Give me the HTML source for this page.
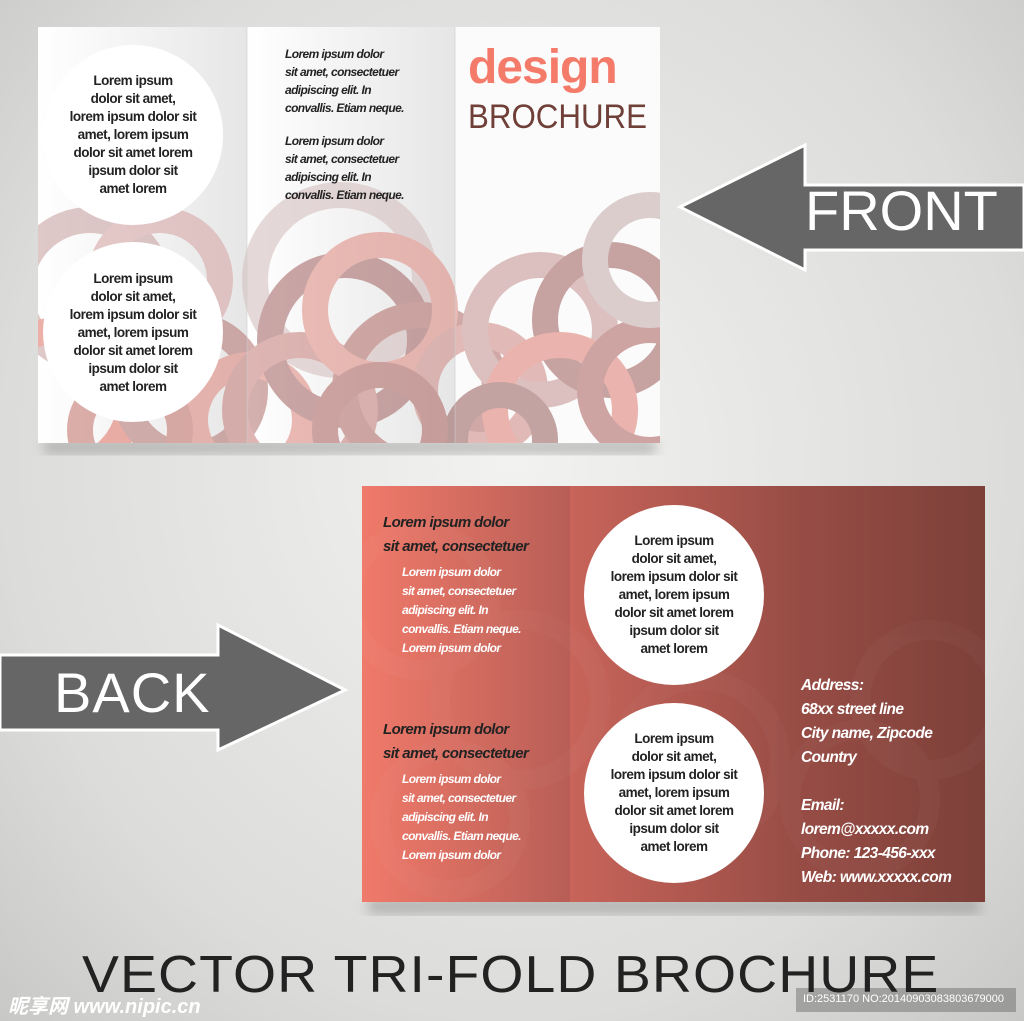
<!DOCTYPE html>
<html><head><meta charset="utf-8"><style>
body{margin:0;width:1024px;height:1021px;overflow:hidden;background:radial-gradient(ellipse at 50% 45%,#f2f2f0 0%,#dcdcda 70%,#c8c8c6 100%);font-family:"Liberation Sans",sans-serif;position:relative}
.a{position:absolute}
.ct{text-align:center;font-weight:bold;font-size:13.5px;line-height:18px;color:#222;letter-spacing:-0.5px}
.it{font-style:italic;font-weight:bold;font-size:12px;line-height:18px;color:#222;letter-spacing:-0.6px}
.wt{color:#fff}
</style></head><body>
<svg class="a" style="left:0;top:0" width="1024" height="1021">
<defs>
<linearGradient id="p1" x1="0" x2="1"><stop offset="0" stop-color="#fff"/><stop offset="1" stop-color="#e6e6e6"/></linearGradient>
<linearGradient id="b1" x1="0" x2="1"><stop offset="0" stop-color="#f07a6a"/><stop offset="1" stop-color="#b85e56"/></linearGradient>
<linearGradient id="b2" x1="0" x2="1"><stop offset="0" stop-color="#c8645a"/><stop offset="1" stop-color="#9c4f47"/></linearGradient>
<linearGradient id="b3" x1="0" x2="1"><stop offset="0" stop-color="#9a4e46"/><stop offset="1" stop-color="#7c4039"/></linearGradient>
<clipPath id="cf"><rect x="38" y="27" width="622" height="416"/></clipPath>
<clipPath id="cb"><rect x="362" y="486" width="623" height="416"/></clipPath>
<filter id="sh"><feGaussianBlur stdDeviation="6"/></filter>
</defs>
<rect x="44" y="440" width="612" height="14" fill="#888" opacity=".5" filter="url(#sh)"/>
<rect x="368" y="898" width="612" height="16" fill="#888" opacity=".5" filter="url(#sh)"/>
<g clip-path="url(#cf)">
<rect x="38" y="27" width="209" height="416" fill="url(#p1)"/>
<rect x="247" y="27" width="208" height="416" fill="url(#p1)"/>
<rect x="455" y="27" width="205" height="416" fill="#fbfbfb"/>
<g fill="none" stroke-width="26" opacity=".6">
<circle cx="90" cy="290" r="70" stroke="#c9a4a4"/>
<circle cx="160" cy="280" r="60" stroke="#d8a8a8"/>
<circle cx="60" cy="400" r="70" stroke="#e07c70"/>
<circle cx="190" cy="390" r="65" stroke="#b77b78"/>
<circle cx="250" cy="420" r="55" stroke="#e08d84"/>
<circle cx="340" cy="280" r="85" stroke="#d6c0c0"/>
<circle cx="345" cy="340" r="75" stroke="#a86e6c"/>
<circle cx="300" cy="410" r="65" stroke="#c88580"/>
<circle cx="420" cy="390" r="75" stroke="#b57470"/>
<circle cx="380" cy="310" r="65" stroke="#e09088"/>
<circle cx="480" cy="390" r="55" stroke="#d0908c"/>
<circle cx="540" cy="330" r="65" stroke="#c89a98"/>
<circle cx="610" cy="320" r="65" stroke="#a36866"/>
<circle cx="560" cy="410" r="65" stroke="#e0847a"/>
<circle cx="650" cy="390" r="60" stroke="#b06c68"/>
<circle cx="650" cy="260" r="55" stroke="#c8b0b0"/>
<circle cx="500" cy="440" r="45" stroke="#9e6a68"/>
<circle cx="380" cy="430" r="55" stroke="#b06c68"/>
<circle cx="130" cy="430" r="50" stroke="#c77a72"/>
</g>
<circle cx="133" cy="135" r="90" fill="#fff"/>
<circle cx="133" cy="332" r="90" fill="#fff"/>
<line x1="247" y1="27" x2="247" y2="443" stroke="#ccc" opacity=".6"/>
<line x1="455" y1="27" x2="455" y2="443" stroke="#ccc" opacity=".6"/>
</g>
<g clip-path="url(#cb)">
<rect x="362" y="486" width="208" height="416" fill="url(#b1)"/>
<rect x="570" y="486" width="208" height="416" fill="url(#b2)"/>
<rect x="778" y="486" width="207" height="416" fill="url(#b3)"/>
<g fill="none" stroke="#fff" stroke-width="20" opacity=".025">
<circle cx="420" cy="600" r="70"/><circle cx="520" cy="700" r="80"/><circle cx="450" cy="820" r="70"/>
<circle cx="700" cy="760" r="80"/><circle cx="860" cy="800" r="70"/><circle cx="930" cy="700" r="70"/>
</g>
<circle cx="674" cy="595" r="90" fill="#fff"/>
<circle cx="674" cy="793" r="90" fill="#fff"/>
</g>
<polygon points="680,207 805,145 805,185 1024,185 1024,250 805,250 805,270" fill="#666" stroke="#fff" stroke-width="3"/>
<polygon points="0,655 218,655 218,625 345,690 218,750 218,730 0,730" fill="#666" stroke="#fff" stroke-width="3"/>
<rect x="796" y="988" width="220" height="24" fill="#444" opacity=".35"/>
</svg>
<div class="a" style="left:805px;top:178px;font-size:56px;color:#fff;letter-spacing:0px">FRONT</div>
<div class="a" style="left:54px;top:660px;font-size:56px;color:#fff;letter-spacing:1px">BACK</div>
<div class="a" style="left:468px;top:40px;font-size:48px;font-weight:bold;color:#f47a6a;letter-spacing:-1px">design</div>
<div class="a" style="left:468px;top:98px;font-size:34px;color:#6f3f38;transform:scaleX(.92);transform-origin:0 0">BROCHURE</div>
<div class="a ct" style="left:53px;top:72px;width:160px">Lorem ipsum<br>dolor sit amet,<br>lorem ipsum dolor sit<br>amet, lorem ipsum<br>dolor sit amet lorem<br>ipsum dolor sit<br>amet lorem</div>
<div class="a ct" style="left:53px;top:270px;width:160px">Lorem ipsum<br>dolor sit amet,<br>lorem ipsum dolor sit<br>amet, lorem ipsum<br>dolor sit amet lorem<br>ipsum dolor sit<br>amet lorem</div>
<div class="a it" style="left:285px;top:45px">Lorem ipsum dolor<br>sit amet, consectetuer<br>adipiscing elit. In<br>convallis. Etiam neque.</div>
<div class="a it" style="left:285px;top:132px">Lorem ipsum dolor<br>sit amet, consectetuer<br>adipiscing elit. In<br>convallis. Etiam neque.</div>
<div class="a ct" style="left:594px;top:532px;width:160px">Lorem ipsum<br>dolor sit amet,<br>lorem ipsum dolor sit<br>amet, lorem ipsum<br>dolor sit amet lorem<br>ipsum dolor sit<br>amet lorem</div>
<div class="a ct" style="left:594px;top:730px;width:160px">Lorem ipsum<br>dolor sit amet,<br>lorem ipsum dolor sit<br>amet, lorem ipsum<br>dolor sit amet lorem<br>ipsum dolor sit<br>amet lorem</div>
<div class="a it" style="left:383px;top:511px;font-size:15px;line-height:24px">Lorem ipsum dolor<br>sit amet, consectetuer</div>
<div class="a it wt" style="left:402px;top:563px;line-height:19px">Lorem ipsum dolor<br>sit amet, consectetuer<br>adipiscing elit. In<br>convallis. Etiam neque.<br>Lorem ipsum dolor</div>
<div class="a it" style="left:383px;top:718px;font-size:15px;line-height:24px">Lorem ipsum dolor<br>sit amet, consectetuer</div>
<div class="a it wt" style="left:402px;top:770px;line-height:19px">Lorem ipsum dolor<br>sit amet, consectetuer<br>adipiscing elit. In<br>convallis. Etiam neque.<br>Lorem ipsum dolor</div>
<div class="a it wt" style="left:801px;top:674px;font-size:15.5px;line-height:24px">Address:<br>68xx street line<br>City name, Zipcode<br>Country<br><br>Email:<br>lorem@xxxxx.com<br>Phone: 123-456-xxx<br>Web: www.xxxxx.com</div>
<div class="a" style="left:82px;top:945px;font-size:52px;color:#222;letter-spacing:1px;white-space:nowrap;transform:scaleX(1.065);transform-origin:0 0">VECTOR TRI-FOLD BROCHURE</div>
<div class="a" style="left:8px;top:990px;font-size:20px;color:#fff;font-weight:bold;font-style:italic;font-family:'Liberation Sans','Noto Sans CJK SC',sans-serif">昵享网 www.nipic.cn</div>
<div class="a" style="left:803px;top:993px;font-size:11px;color:#fff">ID:2531170 NO:20140903083803679000</div>
</body></html>
